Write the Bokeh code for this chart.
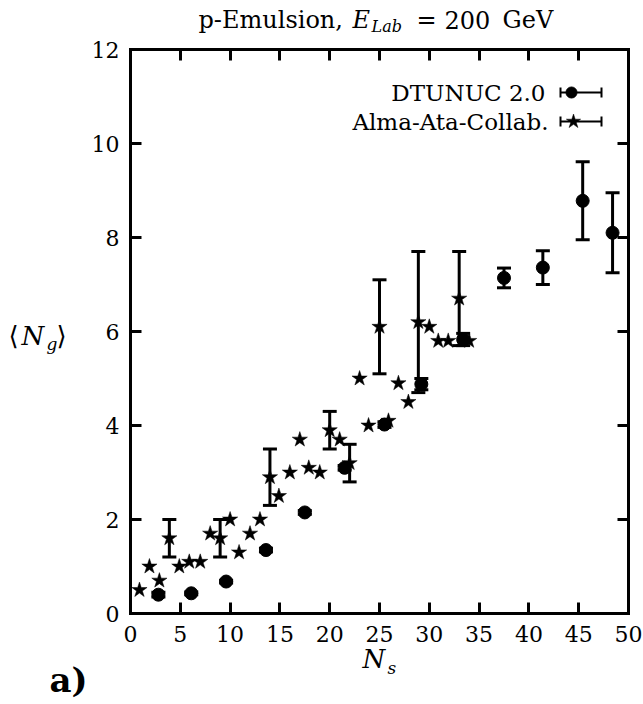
from bokeh.plotting import figure
from bokeh.models import (Range1d, LinearAxis, FixedTicker, Whisker, ColumnDataSource,
                          Label, TeeHead, CustomJSTickFormatter)
from bokeh.embed import file_html
from bokeh.resources import INLINE

# ---------------- data ----------------
dtunuc_ns = [2.8, 6.1, 9.6, 13.6, 17.5, 21.5, 25.5, 29.2, 33.4, 37.5, 41.4, 45.4, 48.4]
dtunuc_ng = [0.40, 0.43, 0.68, 1.35, 2.15, 3.10, 4.02, 4.88, 5.83, 7.14, 7.36, 8.78, 8.10]
dtunuc_err = [0.05, 0.03, 0.03, 0.04, 0.04, 0.05, 0.06, 0.12, 0.13, 0.21, 0.36, 0.83, 0.85]

alma_ns = [0.9, 1.9, 2.9, 3.9, 4.9, 5.9, 7.0, 8.0, 9.0, 10.0, 10.9, 12.0, 13.0, 14.0, 14.9,
           16.0, 17.0, 17.9, 19.0, 20.0, 21.0, 22.0, 23.0, 23.9, 25.0, 25.9, 26.9, 27.9,
           28.9, 30.0, 30.9, 31.9, 33.0, 34.0]
alma_ng = [0.5, 1.0, 0.7, 1.6, 1.0, 1.1, 1.1, 1.7, 1.6, 2.0, 1.3, 1.7, 2.0, 2.9, 2.5,
           3.0, 3.7, 3.1, 3.0, 3.9, 3.7, 3.2, 5.0, 4.0, 6.1, 4.1, 4.9, 4.5,
           6.2, 6.1, 5.8, 5.8, 6.7, 5.8]
alma_err = [0.0, 0.0, 0.0, 0.4, 0.0, 0.0, 0.0, 0.0, 0.4, 0.0, 0.0, 0.0, 0.0, 0.6, 0.0,
            0.0, 0.0, 0.0, 0.0, 0.4, 0.0, 0.4, 0.0, 0.0, 1.0, 0.0, 0.0, 0.0,
            1.5, 0.0, 0.0, 0.0, 1.0, 0.0]

x_ticks = [0, 5, 10, 15, 20, 25, 30, 35, 40, 45, 50]
y_ticks = [0, 2, 4, 6, 8, 10, 12]
X_MIN, X_MAX = 0, 50
Y_MIN, Y_MAX = 0, 12

SERIF = "DejaVu Serif"

# ---------------- layout constants (pixels) ----------------
W, H = 643, 704
PL, PR, PT, PB = 130, 628, 49, 613          # where the data box sits on the canvas
sxu = (PR - PL) / (X_MAX - X_MIN)
syu = (PB - PT) / (Y_MAX - Y_MIN)

p = figure(width=W, height=H,
           x_range=Range1d(X_MIN - PL / sxu, X_MAX + (W - PR) / sxu),
           y_range=Range1d(Y_MIN - (H - PB) / syu, Y_MAX + PT / syu),
           output_backend="svg", toolbar_location=None, title=None,
           min_border=0, min_border_left=0, min_border_right=0,
           min_border_top=0, min_border_bottom=0,
           x_axis_location=None, y_axis_location=None)
p.background_fill_color = "white"
p.border_fill_color = "white"
p.outline_line_color = None
p.xgrid.visible = False
p.ygrid.visible = False

def make_axis(ticks, loc, bounds, labels=True):
    ax = LinearAxis(fixed_location=loc, bounds=bounds)
    ax.ticker = FixedTicker(ticks=ticks)
    ax.major_tick_in = 11
    ax.major_tick_out = 0
    ax.minor_tick_in = 0
    ax.minor_tick_out = 0
    ax.major_tick_line_width = 3
    ax.major_tick_line_color = "black"
    ax.axis_line_width = 3
    ax.axis_line_color = "black"
    ax.axis_line_cap = "square"
    ax.major_label_text_font = SERIF
    ax.major_label_text_font_size = "22px"
    ax.major_label_text_color = "black"
    if not labels:
        ax.formatter = CustomJSTickFormatter(code="return ''")
    return ax

xb = make_axis(x_ticks, Y_MIN, (X_MIN, X_MAX)); xb.major_label_standoff = 12
yl = make_axis(y_ticks, X_MIN, (Y_MIN, Y_MAX)); yl.major_label_standoff = 11
xt = make_axis(x_ticks, Y_MAX, (X_MIN, X_MAX), labels=False)
yr = make_axis(y_ticks, X_MAX, (Y_MIN, Y_MAX), labels=False)
p.add_layout(xb, "below")
p.add_layout(yl, "left")
p.add_layout(xt, "above")
p.add_layout(yr, "right")

# ---------------- data marks ----------------
d_src = ColumnDataSource(dict(x=dtunuc_ns, y=dtunuc_ng,
                              lo=[a - b for a, b in zip(dtunuc_ng, dtunuc_err)],
                              hi=[a + b for a, b in zip(dtunuc_ng, dtunuc_err)]))
a_idx = [i for i, e in enumerate(alma_err) if e > 0]
a_err_src = ColumnDataSource(dict(x=[alma_ns[i] for i in a_idx],
                                  lo=[alma_ng[i] - alma_err[i] for i in a_idx],
                                  hi=[alma_ng[i] + alma_err[i] for i in a_idx]))
a_src = ColumnDataSource(dict(x=alma_ns, y=alma_ng))

for src in (d_src, a_err_src):
    p.add_layout(Whisker(source=src, base="x", lower="lo", upper="hi", dimension="height",
                         line_color="black", line_width=3,
                         lower_head=TeeHead(size=14, line_width=3, line_color="black"),
                         upper_head=TeeHead(size=14, line_width=3, line_color="black")))

p.scatter("x", "y", source=d_src, marker="circle", size=13, color="black")
p.scatter("x", "y", source=a_src, marker="star", size=16, fill_color="black",
          line_color="black", line_width=0.5)

# ---------------- canvas-pixel coordinates for texts and legend ----------------
p.extra_x_ranges = {"px": Range1d(0, W)}
p.extra_y_ranges = {"px": Range1d(H, 0)}

def lab(px, py, text, size="22px", style="normal", align="left"):
    p.add_layout(Label(x=px, y=py, x_range_name="px", y_range_name="px", text=text,
                       text_font=SERIF, text_font_size=size, text_font_style=style,
                       text_align=align, text_baseline="middle", text_color="black"))

# title: p-Emulsion, E_Lab = 200 GeV
lab(198, 19, "p-Emulsion,", size="24px")
lab(352, 19, "E", size="24px", style="italic")
lab(371, 26, "Lab", size="16px", style="italic")
lab(416, 19, "=", size="24px")
lab(444, 19, "200", size="24px")
lab(502, 19, "GeV", size="24px")

# y-axis label <N_g>
lab(8, 335, "\u27e8", size="26px")
lab(21, 335, "N", size="26px", style="italic")
lab(46, 343, "g", size="17px", style="italic")
lab(56, 335, "\u27e9", size="26px")

# x-axis label N_s
lab(362, 658, "N", size="26px", style="italic")
lab(387, 667, "s", size="17px", style="italic")

# panel tag
lab(49, 679, "a)", size="34px", style="bold")

# legend
lab(545, 92, "DTUNUC 2.0", size="23px", align="right")
lab(548, 121, "Alma-Ata-Collab.", size="23px", align="right")
for row_y, mk, mx in ((92, "circle", 571), (121, "star", 573)):
    p.segment(x0=[560], y0=[row_y], x1=[601], y1=[row_y],
              x_range_name="px", y_range_name="px", line_color="black", line_width=2)
    p.segment(x0=[560, 601], y0=[row_y - 5] * 2, x1=[560, 601], y1=[row_y + 5] * 2,
              x_range_name="px", y_range_name="px", line_color="black", line_width=2)
    if mk == "circle":
        p.scatter([mx], [row_y], x_range_name="px", y_range_name="px",
                  marker="circle", size=11, color="black")
    else:
        p.scatter([mx], [row_y], x_range_name="px", y_range_name="px",
                  marker="star", size=15, fill_color="black", line_color="black",
                  line_width=0.5)

open("out.html", "w").write(file_html(p, INLINE))
